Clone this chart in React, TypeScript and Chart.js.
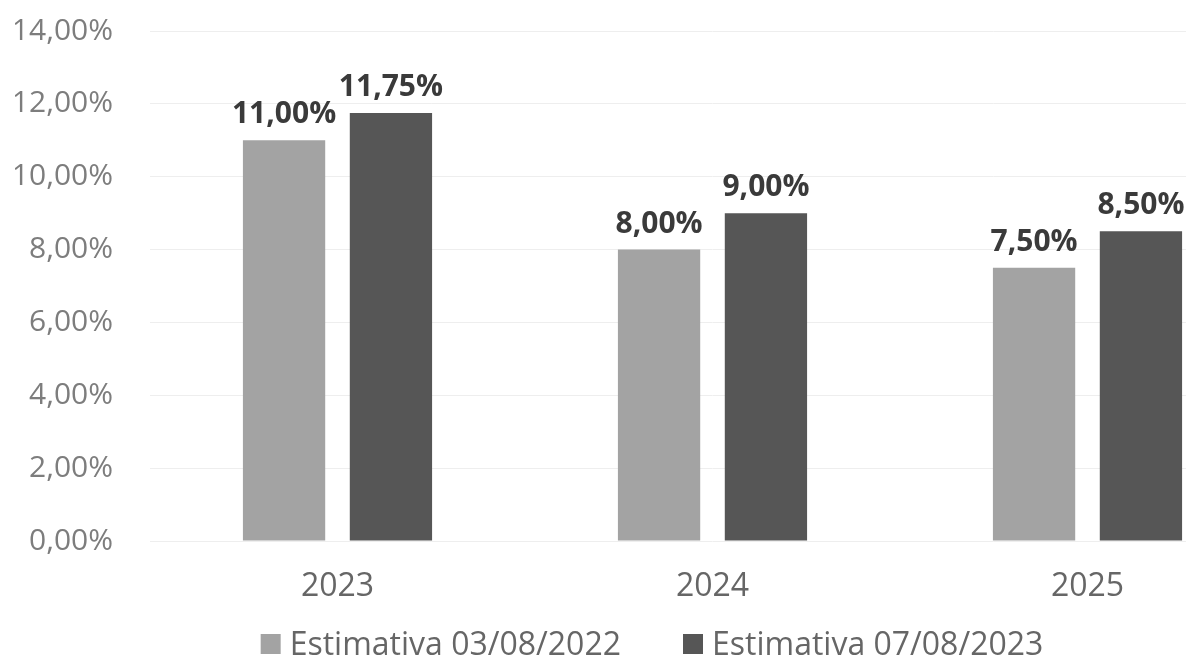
import React, { useEffect, useRef } from "react";
import { Chart, registerables } from "chart.js";

Chart.register(...registerables);

const categories = ["2023", "2024", "2025"];
const seriesNames = ["Estimativa 03/08/2022", "Estimativa 07/08/2023"];
const series2022 = [11.0, 8.0, 7.5];
const series2023 = [11.75, 9.0, 8.5];
const yTicks = [0, 2, 4, 6, 8, 10, 12, 14];
const seriesColors = ["#a3a3a3", "#565656"];

const fmt = (v: number) => v.toFixed(2).replace(".", ",") + "%";

const FONT = "'Open Sans', 'Noto Sans', sans-serif";

const labelPlugin = {
  id: "barLabels",
  afterDatasetsDraw(chart: any) {
    const ctx = chart.ctx;
    ctx.save();
    ctx.font = `bold 30px ${FONT}`;
    ctx.fillStyle = "#3a3a3a";
    ctx.textAlign = "center";
    ctx.textBaseline = "alphabetic";
    chart.data.datasets.forEach((ds: any, i: number) => {
      const meta = chart.getDatasetMeta(i);
      meta.data.forEach((el: any, j: number) => {
        ctx.fillText(fmt(ds.data[j]), el.x, el.y - 17);
      });
    });
    ctx.restore();
  },
};

// legend drawn from the datasets, centred under the figure
const legendPlugin = {
  id: "bottomLegend",
  afterDraw(chart: any) {
    const ctx = chart.ctx;
    const box = 20;
    const boxGap = 9;
    const itemGap = 62;
    const centerX = 652;
    const baseline = 655;
    ctx.save();
    ctx.font = `32px ${FONT}`;
    ctx.textBaseline = "alphabetic";
    ctx.textAlign = "left";
    const items = chart.data.datasets.map((ds: any) => ({
      text: ds.label,
      color: ds.backgroundColor,
      w: ctx.measureText(ds.label).width,
    }));
    const total =
      items.reduce((s: number, it: any) => s + box + boxGap + it.w, 0) + itemGap * (items.length - 1);
    let x = centerX - total / 2;
    items.forEach((it: any) => {
      ctx.fillStyle = it.color;
      ctx.fillRect(x, baseline - 21, box, box);
      x += box + boxGap;
      ctx.fillStyle = "#666666";
      ctx.fillText(it.text, x, baseline);
      x += it.w + itemGap;
    });
    ctx.restore();
  },
};

export default function App() {
  const ref = useRef<HTMLCanvasElement | null>(null);
  useEffect(() => {
    document.body.style.margin = "0";
    document.body.style.overflow = "hidden";
    document.body.style.background = "#ffffff";
    if (!ref.current) return;
    const chart = new Chart(ref.current, {
      type: "bar",
      data: {
        labels: categories,
        datasets: [
          {
            label: seriesNames[0],
            data: series2022,
            backgroundColor: seriesColors[0],
            categoryPercentage: 0.57,
            barPercentage: 0.77,
          },
          {
            label: seriesNames[1],
            data: series2023,
            backgroundColor: seriesColors[1],
            categoryPercentage: 0.57,
            barPercentage: 0.77,
          },
        ],
      },
      options: {
        animation: false,
        responsive: false,
        maintainAspectRatio: false,
        layout: { padding: { top: 31, right: 105, left: 15, bottom: 61 } },
        scales: {
          y: {
            min: 0,
            max: 14,
            afterBuildTicks: (axis: any) => {
              axis.ticks = yTicks.map((v) => ({ value: v }));
            },
            afterFit: (axis: any) => {
              axis.width = 135;
              axis.paddingTop = 0;
              axis.paddingBottom = 0;
            },
            ticks: {
              callback: (v: any) => fmt(Number(v)),
              color: "#7d7d7d",
              font: { family: FONT, size: 30 },
              padding: 37,
            },
            grid: { color: "#eeeeee", drawTicks: false },
            border: { display: false },
          },
          x: {
            afterFit: (axis: any) => {
              axis.height = 60;
              axis.paddingLeft = 0;
              axis.paddingRight = 0;
            },
            ticks: {
              color: "#666666",
              font: { family: FONT, size: 32 },
              padding: 19,
            },
            grid: { display: false },
            border: { display: false },
          },
        },
        plugins: {
          legend: { display: false },
          tooltip: { enabled: false },
        },
      },
      plugins: [labelPlugin, legendPlugin],
    });
    return () => chart.destroy();
  }, []);
  return (
    <div style={{ width: 1186, height: 662, overflow: "hidden", position: "relative" }}>
      <canvas ref={ref} width={1380} height={662} style={{ width: 1380, height: 662, display: "block" }} />
    </div>
  );
}
